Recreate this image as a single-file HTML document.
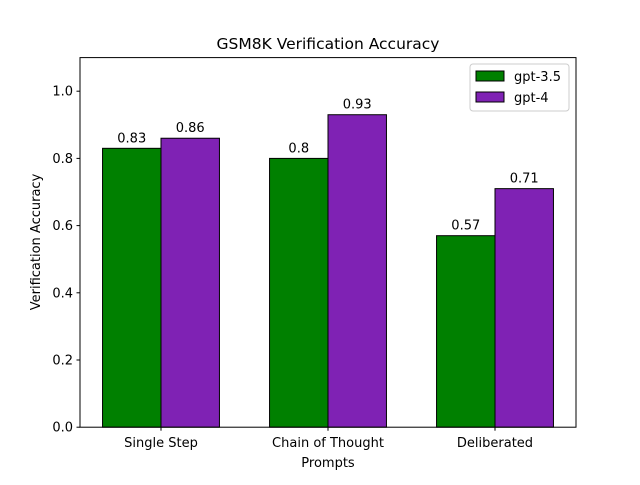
<!DOCTYPE html>
<html><head><meta charset="utf-8"><style>
body{margin:0;background:#fff;}
text{font-family:"DejaVu Sans","Liberation Sans",sans-serif;fill:#000;}
</style></head><body>
<svg id="chart" width="640" height="480" xmlns="http://www.w3.org/2000/svg"></svg>
<script>
const categories = ["Single Step", "Chain of Thought", "Deliberated"];
const gpt35 = [0.83, 0.80, 0.57];
const gpt4 = [0.86, 0.93, 0.71];
const gpt35Labels = ["0.83", "0.8", "0.57"];
const gpt4Labels = ["0.86", "0.93", "0.71"];
const yTicks = [0, 0.2, 0.4, 0.6, 0.8, 1.0];
const yTickLabels = ["0.0", "0.2", "0.4", "0.6", "0.8", "1.0"];

const svg = document.getElementById('chart');
const NS = "http://www.w3.org/2000/svg";
const L=80,R=576,T=57.6,B=427.2;
const xmin=-0.485,xmax=2.485,ymin=0,ymax=1.1;
const X=v=>L+(v-xmin)/(xmax-xmin)*(R-L);
const Y=v=>B-(v-ymin)/(ymax-ymin)*(B-T);
function el(tag,attrs,text){const e=document.createElementNS(NS,tag);for(const k in attrs)e.setAttribute(k,attrs[k]);if(text!==undefined)e.textContent=text;svg.appendChild(e);return e;}
const w=0.35;
function series(vals,labels,off,color,name){
  vals.forEach((v,i)=>{
    const x0=X(i+off-w/2),x1=X(i+off+w/2);
    const r=el('rect',{x:x0,y:Y(v),width:x1-x0,height:Y(0)-Y(v),fill:color,stroke:'#000','stroke-width':1});
    
    
    const t=el('text',{x:(x0+x1)/2,y:Y(v)-6,'text-anchor':'middle','font-size':13},labels[i]);
    
    
  });
}
series(gpt35,gpt35Labels,-w/2,'#008000','gpt35');
series(gpt4,gpt4Labels,w/2,'#7f22b4','gpt4');
const frame=el('rect',{x:L,y:T,width:R-L,height:B-T,fill:'none',stroke:'#000','stroke-width':1});


yTicks.forEach((v,i)=>{
  el('line',{x1:L-3.5,x2:L,y1:Y(v),y2:Y(v),stroke:'#000'});
  const t=el('text',{x:L-7,y:Y(v)+4.5,'text-anchor':'end','font-size':13},yTickLabels[i]);
  
  
});
categories.forEach((c,i)=>{
  el('line',{x1:X(i),x2:X(i),y1:B,y2:B+3.5,stroke:'#000'});
  const t=el('text',{x:X(i),y:B+20,'text-anchor':'middle','font-size':13},c);
  
  
});
let t=el('text',{x:328,y:49,'text-anchor':'middle','font-size':15.5},'GSM8K Verification Accuracy');

t=el('text',{x:328,y:467,'text-anchor':'middle','font-size':13},'Prompts');

t=el('text',{x:0,y:0,'text-anchor':'middle','font-size':13,transform:'translate(40,242) rotate(-90)'},'Verification Accuracy');

const lg=el('rect',{x:470,y:64,width:99,height:47,rx:3,fill:'#fff',stroke:'#ccc'});

[['gpt-3.5','#008000'],['gpt-4','#7f22b4']].forEach((d,i)=>{
  const y=71+i*21;
  const r=el('rect',{x:476,y:y,width:28,height:10,fill:d[1],stroke:'#000'});
  
  const tt=el('text',{x:514,y:y+10,'font-size':13},d[0]);
  
});
</script>
</body></html>
